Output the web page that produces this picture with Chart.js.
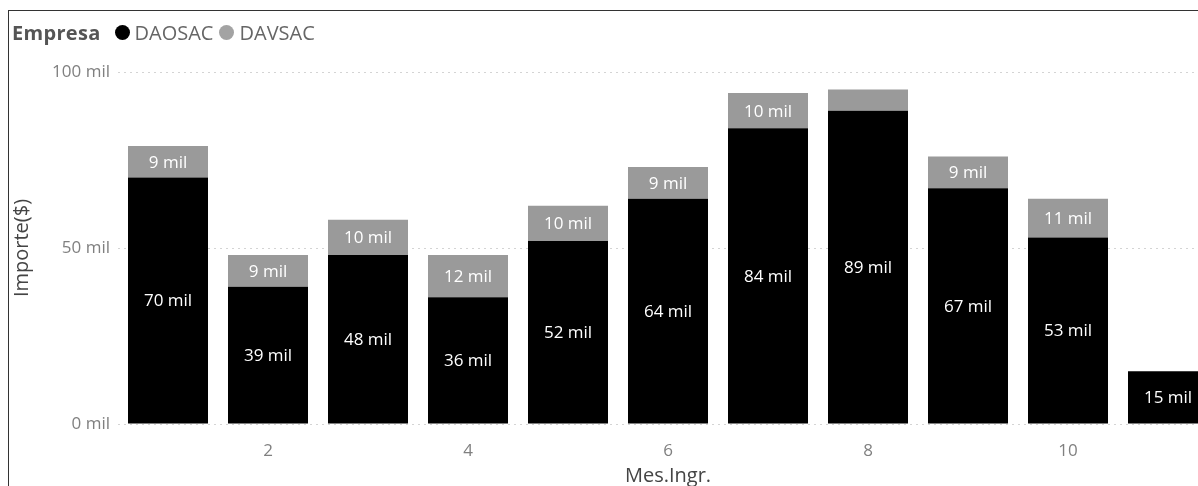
<!DOCTYPE html>
<html>
<head>
<meta charset="utf-8">
<script src="https://cdn.jsdelivr.net/npm/chart.js@4.4.1/dist/chart.umd.min.js"></script>
<style>
    html, body { margin: 0; padding: 0; background: #fff; overflow: hidden; }
    #wrap { position: relative; width: 1198px; height: 486px; overflow: hidden; }
    #frame { position: absolute; left: 8px; top: 10px; width: 1400px; height: 600px;
             border-left: 1px solid #333; border-top: 1px solid #333; }
    #chart { position: absolute; left: 0; top: 0; }
    #legend { position: absolute; left: 12px; top: 19px; font-family: "Open Sans", sans-serif;
              font-size: 20px; color: #666; display: flex; align-items: center; white-space: nowrap; }
    #legend b { color: #555; margin-right: 14px; font-weight: 700; font-size: 20px; letter-spacing: 0.3px; }
    #legend .item { display: flex; align-items: center; margin-right: 6px; }
    #legend .dot { width: 15px; height: 15px; border-radius: 50%; margin-right: 5px; }
</style>
</head>
<body>
<div id="wrap">
    <div id="frame"></div>
    <canvas id="chart" width="1240" height="486"></canvas>
    <div id="legend"></div>
</div>
<script>
    // Datos
    const meses = [1, 2, 3, 4, 5, 6, 7, 8, 9, 10, 11];
    const daosac = [70, 39, 48, 36, 52, 64, 84, 89, 67, 53, 15];
    const davsac = [9, 9, 10, 12, 10, 9, 10, 6, 9, 11, null];
    const yTicks = [0, 50, 100];

    const empresas = [
        { nombre: 'DAOSAC', valores: daosac, color: '#000000', punto: '#000000' },
        { nombre: 'DAVSAC', valores: davsac, color: '#9a9a9a', punto: '#a3a3a3' }
    ];

    // Leyenda HTML
    const legend = document.getElementById('legend');
    legend.innerHTML = '<b>Empresa</b>' + empresas.map(e =>
        `<span class="item"><span class="dot" style="background:${e.punto}"></span>${e.nombre}</span>`
    ).join('');

    // Etiquetas dentro de las barras
    const barLabels = {
        id: 'barLabels',
        afterDatasetsDraw(chart) {
            const ctx = chart.ctx;
            ctx.save();
            ctx.font = '17px "Open Sans", sans-serif';
            ctx.fillStyle = '#ffffff';
            ctx.textAlign = 'center';
            ctx.textBaseline = 'middle';
            chart.data.datasets.forEach((ds, i) => {
                const meta = chart.getDatasetMeta(i);
                meta.data.forEach((bar, j) => {
                    const v = ds.data[j];
                    if (v == null) return;
                    const { x, y, base } = bar.getProps(['x', 'y', 'base'], true);
                    if (Math.abs(base - y) < 24) return;
                    ctx.fillText(v + ' mil', x, (y + base) / 2 + 1);
                });
            });
            ctx.restore();
        }
    };

    const tickFont = { family: '"Open Sans", sans-serif', size: 17 };
    const titleFont = { family: '"Open Sans", sans-serif', size: 20, lineHeight: 1 };

    new Chart(document.getElementById('chart'), {
        type: 'bar',
        data: {
            labels: meses,
            datasets: empresas.map(e => ({
                label: e.nombre,
                data: e.valores,
                backgroundColor: e.color,
                borderWidth: 0,
                categoryPercentage: 1,
                barPercentage: 0.8
            }))
        },
        options: {
            responsive: false,
            animation: false,
            devicePixelRatio: 1,
            layout: { padding: { top: 72, right: 22, left: 0, bottom: 0 } },
            plugins: {
                legend: { display: false },
                tooltip: { enabled: false }
            },
            scales: {
                x: {
                    stacked: true,
                    grid: { display: false, drawTicks: false },
                    border: { display: false },
                    ticks: {
                        autoSkip: false,
                        maxRotation: 0,
                        padding: 17,
                        color: '#808080',
                        font: tickFont,
                        callback: function (val) {
                            const m = meses[val];
                            return m % 2 === 0 ? String(m) : '';
                        }
                    },
                    title: {
                        display: true,
                        text: 'Mes.Ingr.',
                        color: '#444',
                        font: titleFont,
                        padding: { top: 0, bottom: 0 }
                    },
                    afterFit: scale => { scale.height = 62; }
                },
                y: {
                    stacked: true,
                    min: 0,
                    max: 100,
                    afterBuildTicks: scale => { scale.ticks = yTicks.map(v => ({ value: v })); },
                    grid: {
                        drawTicks: false,
                        color: '#d4d4d4',
                        lineWidth: 1
                    },
                    border: { display: false, dash: [2, 4] },
                    ticks: {
                        padding: 8,
                        color: '#808080',
                        font: tickFont,
                        callback: v => v + ' mil'
                    },
                    title: {
                        display: true,
                        text: 'Importe($)',
                        color: '#444',
                        font: titleFont,
                        padding: { top: 12, bottom: 0 }
                    },
                    afterFit: scale => { scale.width = 118; }
                }
            }
        },
        plugins: [barLabels]
    });
</script>
</body>
</html>
